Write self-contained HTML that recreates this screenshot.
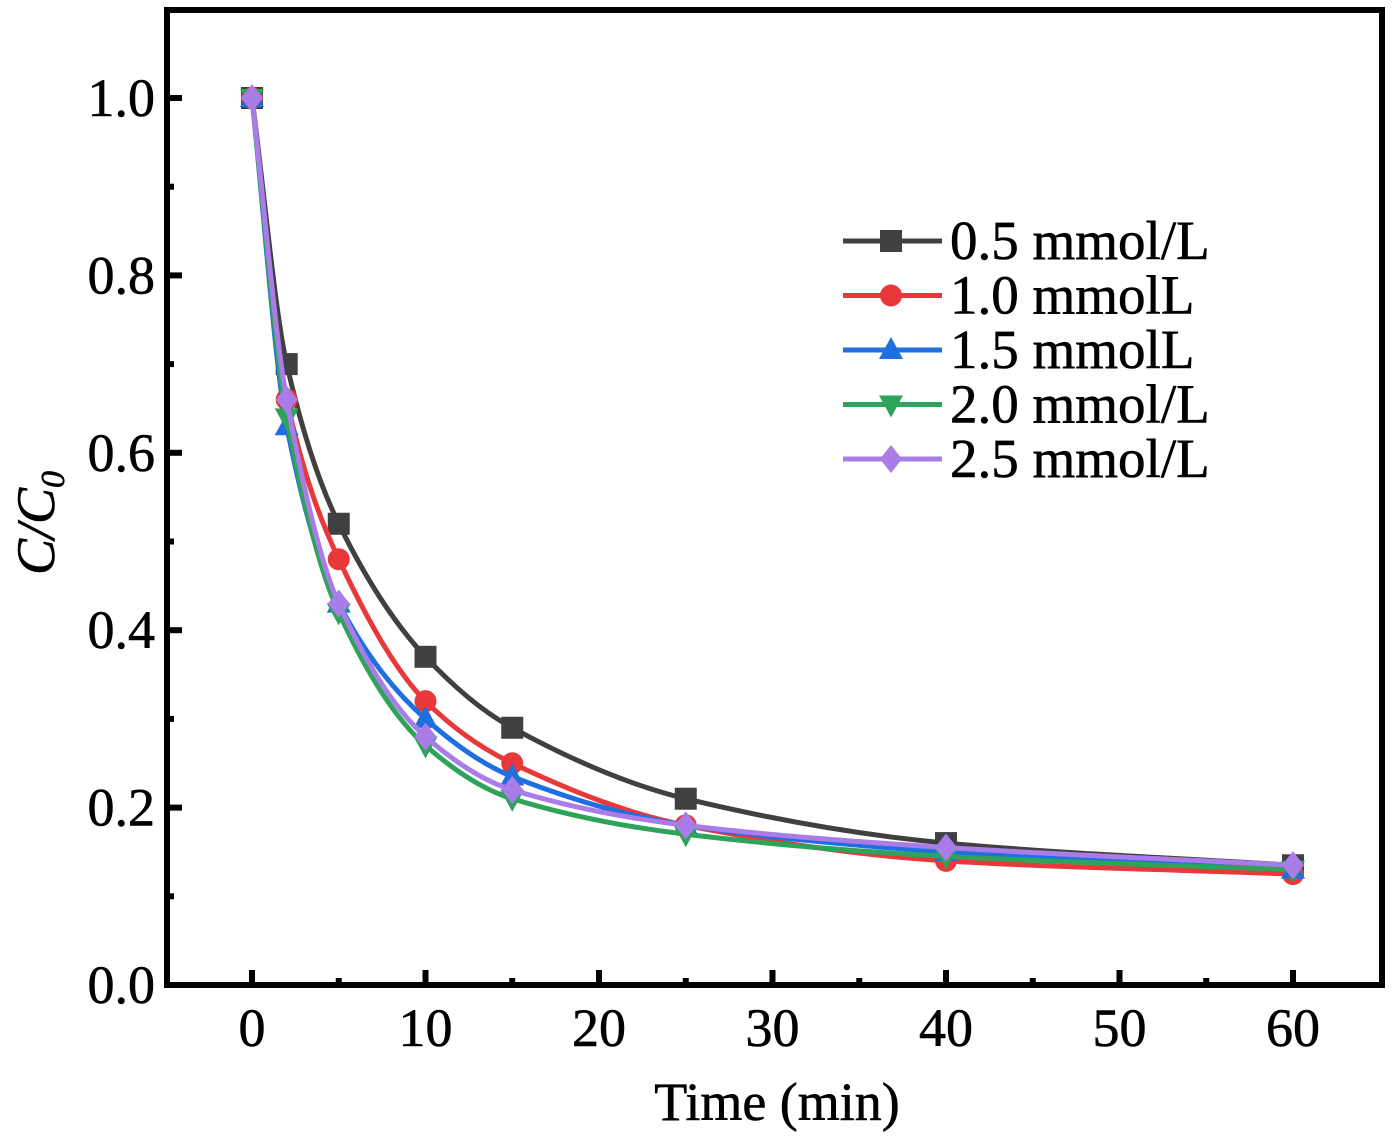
<!DOCTYPE html>
<html><head><meta charset="utf-8"><style>
html,body{margin:0;padding:0;background:#fff;}
svg{display:block;font-family:"Liberation Serif",serif;}
text{stroke:#000;stroke-width:0.6px;}
</style></head><body>
<svg id="chart" width="1392" height="1142">
<g id="curves"></g>
<g id="axes"></g>
<g id="legend"></g>
</svg>
<script>
const times=[0,2,5,10,15,25,40,60];
const seriesNames=["0.5 mmol/L","1.0 mmolL","1.5 mmolL","2.0 mmol/L","2.5 mmol/L"];
const s05=[1.0,0.70,0.52,0.37,0.29,0.21,0.16,0.135];
const s10=[1.0,0.66,0.48,0.32,0.25,0.18,0.14,0.125];
const s15=[1.0,0.63,0.43,0.30,0.235,0.18,0.15,0.13];
const s20=[1.0,0.64,0.42,0.27,0.21,0.17,0.145,0.13];
const s25=[1.0,0.66,0.43,0.28,0.22,0.18,0.155,0.135];
const xTicks=[0,10,20,30,40,50,60];
const yTicks=[0.0,0.2,0.4,0.6,0.8,1.0];
const colors=["#404040","#e8383a","#1f6fe0","#2ea35a","#a97ce8"];
const markers=["square","circle","triangle","tridown","diamond"];
const allSeries=[s05,s10,s15,s20,s25];
const NS="http://www.w3.org/2000/svg";
const X=v=>252+v*(1293-252)/60;
const Y=v=>985-v*887;
function mk(t,a,p){const e=document.createElementNS(NS,t);for(const k in a)e.setAttribute(k,a[k]);p.appendChild(e);return e;}
const curves=document.getElementById('curves'),axes=document.getElementById('axes'),legend=document.getElementById('legend');
function smoothPath(xs,ys){
 const n=xs.length,px=xs.map(X),py=ys.map(Y);const d=[],m=[];
 for(let i=0;i<n-1;i++)d.push((py[i+1]-py[i])/(px[i+1]-px[i]));
 m[0]=d[0];m[n-1]=d[n-2];
 for(let i=1;i<n-1;i++)m[i]=d[i-1]*d[i]<=0?0:2/(1/d[i-1]+1/d[i]);
 let s="M"+px[0]+","+py[0];
 for(let i=0;i<n-1;i++){const h=px[i+1]-px[i];s+=" C"+(px[i]+h/3)+","+(py[i]+m[i]*h/3)+" "+(px[i+1]-h/3)+","+(py[i+1]-m[i+1]*h/3)+" "+px[i+1]+","+py[i+1];}
 return s;
}
function marker(type,x,y,c,p){
 const r=11;let e;
 if(type=="square")e=mk('rect',{x:x-r,y:y-r,width:2*r,height:2*r,fill:c},p);
 else if(type=="circle")e=mk('circle',{cx:x,cy:y,r:r,fill:c},p);
 else if(type=="triangle")e=mk('polygon',{points:`${x},${y-r-2} ${x-r-1},${y+r-2} ${x+r+1},${y+r-2}`,fill:c},p);
 else if(type=="tridown")e=mk('polygon',{points:`${x},${y+r+2} ${x-r-1},${y-r+2} ${x+r+1},${y-r+2}`,fill:c},p);
 else e=mk('polygon',{points:`${x},${y-r-3} ${x+r},${y} ${x},${y+r+3} ${x-r},${y}`,fill:c},p);
 return e;
}
allSeries.forEach((s,i)=>{
 const g=mk('g',{},curves);
 
 
 const path=mk('path',{d:smoothPath(times,s),fill:'none',stroke:colors[i],'stroke-width':5},g);
 
 
 s.forEach((v,j)=>{const m=marker(markers[i],X(times[j]),Y(v),colors[i],g);
  
  });
});
const frame=mk('rect',{x:167,y:10,width:1215,height:975,fill:'none',stroke:'#000','stroke-width':6},axes);


for(let v=0;v<=60;v+=5){const major=v%10==0;mk('line',{x1:X(v),x2:X(v),y1:985,y2:985-(major?15:7),stroke:'#000','stroke-width':6},axes);}
for(let k=1;k<=10;k++){const v=k/10;const major=k%2==0;mk('line',{x1:167,x2:167+(major?15:7),y1:Y(v),y2:Y(v),stroke:'#000','stroke-width':6},axes);}
xTicks.forEach(v=>{const t=mk('text',{x:X(v),y:1046,'text-anchor':'middle','font-size':54},axes);t.textContent=v;
 
 });
yTicks.forEach(v=>{const t=mk('text',{x:155,y:Y(v)+18,'text-anchor':'end','font-size':54},axes);t.textContent=v.toFixed(1);
 
 });
const xt=mk('text',{x:777,y:1120,'text-anchor':'middle','font-size':54},axes);xt.textContent="Time (min)";


const yt=mk('text',{x:0,y:0,'font-size':54,transform:'translate(54,575) rotate(-90)','font-style':'italic'},axes);
yt.innerHTML='C/C<tspan font-size="34" dy="10">0</tspan>';


seriesNames.forEach((n,i)=>{
 const y=241+i*54.5;const g=mk('g',{},legend);
 
 
 mk('line',{x1:843,x2:942,y1:y,y2:y,stroke:colors[i],'stroke-width':5},g);
 marker(markers[i],891,y,colors[i],g);
 const t=mk('text',{x:950,y:y+18,'font-size':55},g);t.textContent=n;
});
</script>
</body></html>
